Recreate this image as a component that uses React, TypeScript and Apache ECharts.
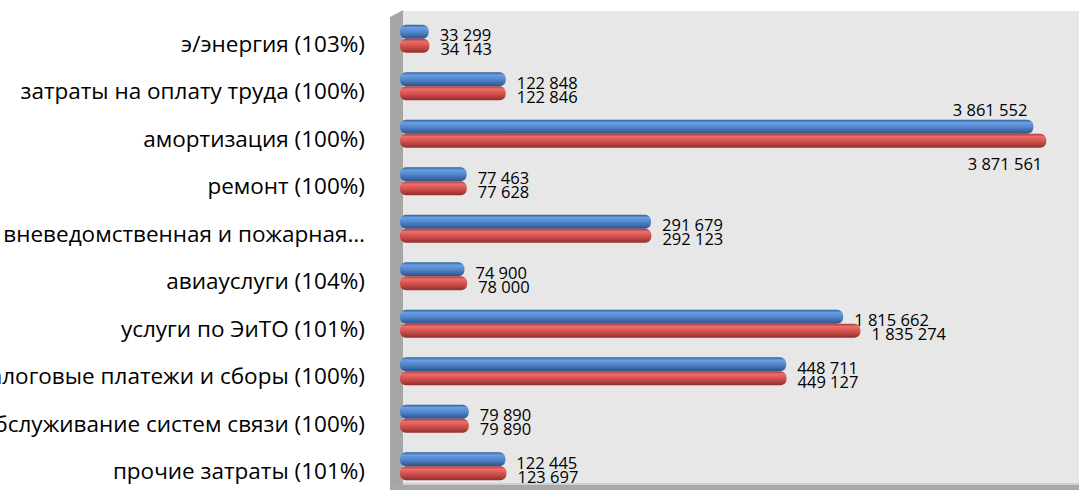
import React, { useEffect, useRef } from "react";
import * as echarts from "echarts";

const categories = [
  "э/энергия (103%)",
  "затраты на оплату труда (100%)",
  "амортизация (100%)",
  "ремонт (100%)",
  "вневедомственная и пожарная…",
  "авиауслуги (104%)",
  "услуги по ЭиТО (101%)",
  "налоговые платежи и сборы (100%)",
  "обслуживание систем связи (100%)",
  "прочие затраты (101%)",
];

// values printed on the bars
const blueLabels = [33299, 122848, 3861552, 77463, 291679, 74900, 1815662, 448711, 79890, 122445];
const redLabels = [34143, 122846, 3871561, 77628, 292123, 78000, 1835274, 449127, 79890, 123697];

// bar lengths as drawn in the picture (the two largest bars are shortened in the original)
const blueBars = [33299, 122848, 736000, 77463, 291679, 74900, 515000, 448711, 79890, 122445];
const redBars = [34143, 122846, 751000, 77628, 292123, 78000, 535000, 449127, 79890, 123697];

const fmt = (n: number) => String(n).replace(/\B(?=(\d{3})+(?!\d))/g, " ");

const FONT = "Open Sans";

export default function App() {
  const ref = useRef<HTMLDivElement>(null);
  useEffect(() => {
    if (!ref.current) return;
    const chart = echarts.init(ref.current, null, { renderer: "svg" });

    const blueColor = new echarts.graphic.LinearGradient(0, 0, 0, 1, [
      { offset: 0, color: "#2f5c99" },
      { offset: 0.2, color: "#6a9fe3" },
      { offset: 0.55, color: "#4f84c8" },
      { offset: 1, color: "#2b5288" },
    ]);
    const redColor = new echarts.graphic.LinearGradient(0, 0, 0, 1, [
      { offset: 0, color: "#a83a37" },
      { offset: 0.2, color: "#ec6e6a" },
      { offset: 0.55, color: "#d2504c" },
      { offset: 1, color: "#8f2f2c" },
    ]);

    const bigIndex = 2;
    const labelBase = {
      show: true,
      position: "right" as const,
      distance: 11,
      offset: [0, 3],
      color: "#000",
      fontFamily: FONT,
      fontSize: 16.5,
      lineHeight: 14,
    };

    const blueData = blueBars.map((v, i) =>
      i === bigIndex
        ? {
            value: v,
            label: {
              position: ["100%", 0],
              align: "right",
              verticalAlign: "bottom",
              offset: [-6, -3],
            },
          }
        : { value: v }
    );
    const redData = redBars.map((v, i) =>
      i === bigIndex
        ? {
            value: v,
            label: {
              position: ["100%", "100%"],
              align: "right",
              verticalAlign: "top",
              offset: [-4, 9],
            },
          }
        : { value: v }
    );

    chart.setOption({
      animation: false,
      graphic: [
        {
          type: "rect",
          z: -10,
          silent: true,
          shape: { x: 403, y: 11, width: 676, height: 474 },
          style: { fill: "#e7e7e7" },
        },
        {
          type: "polygon",
          z: -9,
          silent: true,
          shape: { points: [[390, 17], [403, 10], [403, 490], [390, 490]] },
          style: { fill: "#a6a6a6" },
        },
        {
          type: "rect",
          z: -9,
          silent: true,
          shape: { x: 390, y: 484, width: 689, height: 6 },
          style: { fill: "#a8a8a8" },
        },
        {
          type: "rect",
          z: -8,
          silent: true,
          shape: { x: 403, y: 483, width: 676, height: 2 },
          style: { fill: "#cfcfcf" },
        },
      ],
      grid: {
        left: 400,
        right: 0,
        top: 15,
        height: 475,
        containLabel: false,
        outerBoundsMode: "none",
      },
      xAxis: {
        type: "value",
        min: 0,
        max: 789000,
        show: false,
      },
      yAxis: {
        type: "category",
        data: categories,
        inverse: true,
        axisLine: { show: false },
        axisTick: { show: false },
        splitLine: { show: false },
        axisLabel: {
          margin: 35,
          color: "#000",
          fontFamily: FONT,
          fontSize: 22.5,
          verticalAlign: "top",
          lineHeight: 9,
        },
      },
      series: [
        {
          type: "bar",
          data: blueData,
          barWidth: 14,
          barGap: "0%",
          itemStyle: { color: blueColor, borderRadius: 6 },
          label: {
            ...labelBase,
            formatter: (p: any) => fmt(blueLabels[p.dataIndex]),
          },
        },
        {
          type: "bar",
          data: redData,
          barWidth: 14,
          barGap: "0%",
          itemStyle: { color: redColor, borderRadius: 6 },
          label: {
            ...labelBase,
            formatter: (p: any) => fmt(redLabels[p.dataIndex]),
          },
        },
      ],
    });
    return () => chart.dispose();
  }, []);
  return (
    <div
      ref={ref}
      style={{ position: "absolute", left: 0, top: 0, width: 1079, height: 490 }}
    />
  );
}
